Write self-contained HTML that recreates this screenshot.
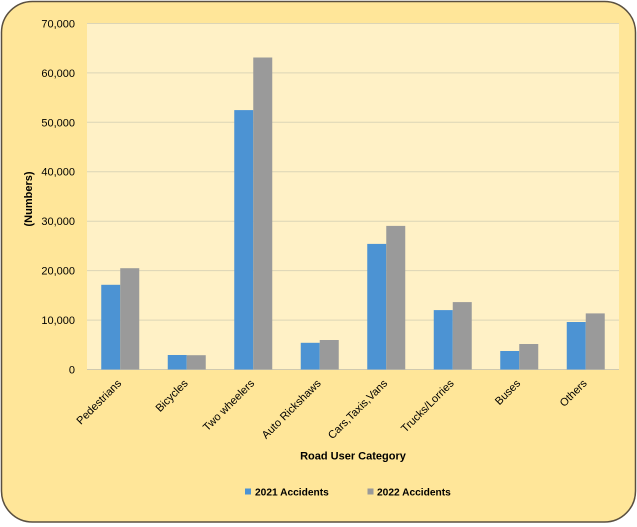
<!DOCTYPE html>
<html>
<head>
<meta charset="utf-8">
<style>
html,body{margin:0;padding:0;background:#ffffff;}
svg{display:block;}
text{font-family:"Liberation Sans",sans-serif;fill:#000;}
</style>
</head>
<body>
<svg width="637" height="527" viewBox="0 0 637 527" xmlns="http://www.w3.org/2000/svg">
  <rect x="1.5" y="1.5" width="634" height="520.5" rx="31" ry="31" fill="#FFE699" stroke="#5a5040" stroke-width="1.5"/>
  <rect x="87" y="23.5" width="532" height="346" fill="#FFF1C6"/>
  <g stroke="#DCD5B6" stroke-width="1">
    <line x1="87" x2="619" y1="23.5" y2="23.5"/>
    <line x1="87" x2="619" y1="72.9" y2="72.9"/>
    <line x1="87" x2="619" y1="122.3" y2="122.3"/>
    <line x1="87" x2="619" y1="171.7" y2="171.7"/>
    <line x1="87" x2="619" y1="221.2" y2="221.2"/>
    <line x1="87" x2="619" y1="270.6" y2="270.6"/>
    <line x1="87" x2="619" y1="320.1" y2="320.1"/>
  </g>
  <line x1="87" x2="619" y1="369.5" y2="369.5" stroke="#CFC9B0" stroke-width="1"/>
  <g font-size="11" text-anchor="end">
    <text x="75" y="27.5">70,000</text>
    <text x="75" y="76.9">60,000</text>
    <text x="75" y="126.3">50,000</text>
    <text x="75" y="175.7">40,000</text>
    <text x="75" y="225.2">30,000</text>
    <text x="75" y="274.6">20,000</text>
    <text x="75" y="324.1">10,000</text>
    <text x="75" y="373.5">0</text>
  </g>
  <text x="0" y="0" font-size="11" font-weight="bold" text-anchor="middle" transform="translate(32,199) rotate(-90)">(Numbers)</text>
  <g fill="#4C93D3">
    <rect x="101.25" y="284.8" width="19" height="84.7"/>
    <rect x="167.75" y="355.0" width="19" height="14.5"/>
    <rect x="234.25" y="110.1" width="19" height="259.4"/>
    <rect x="300.75" y="342.8" width="19" height="26.7"/>
    <rect x="367.25" y="243.9" width="19" height="125.6"/>
    <rect x="433.75" y="310.1" width="19" height="59.4"/>
    <rect x="500.25" y="351.0" width="19" height="18.5"/>
    <rect x="566.75" y="322.0" width="19" height="47.5"/>
  </g>
  <g fill="#9A9A9A">
    <rect x="120.25" y="268.2" width="19" height="101.3"/>
    <rect x="186.75" y="355.2" width="19" height="14.3"/>
    <rect x="253.25" y="57.5" width="19" height="312"/>
    <rect x="319.75" y="340.0" width="19" height="29.5"/>
    <rect x="386.25" y="225.9" width="19" height="143.6"/>
    <rect x="452.75" y="302.1" width="19" height="67.4"/>
    <rect x="519.25" y="344.0" width="19" height="25.5"/>
    <rect x="585.75" y="313.4" width="19" height="56.1"/>
  </g>
  <g font-size="11" text-anchor="end">
    <text transform="translate(122,384) rotate(-45)">Pedestrians</text>
    <text transform="translate(188.5,384) rotate(-45)">Bicycles</text>
    <text transform="translate(255,384) rotate(-45)">Two wheelers</text>
    <text transform="translate(321.5,384) rotate(-45)">Auto Rickshaws</text>
    <text transform="translate(388,384) rotate(-45)">Cars,Taxis,Vans</text>
    <text transform="translate(454.5,384) rotate(-45)">Trucks/Lorries</text>
    <text transform="translate(521,384) rotate(-45)">Buses</text>
    <text transform="translate(587.5,384) rotate(-45)">Others</text>
  </g>
  <text x="353" y="459.5" font-size="11" font-weight="bold" text-anchor="middle">Road User Category</text>
  <rect x="245" y="488.5" width="6" height="6" fill="#4C93D3"/>
  <text x="255" y="495.5" font-size="10.2" font-weight="bold">2021 Accidents</text>
  <rect x="367.5" y="488.5" width="6" height="6" fill="#9A9A9A"/>
  <text x="377" y="495.5" font-size="10.2" font-weight="bold">2022 Accidents</text>
</svg>
</body>
</html>
